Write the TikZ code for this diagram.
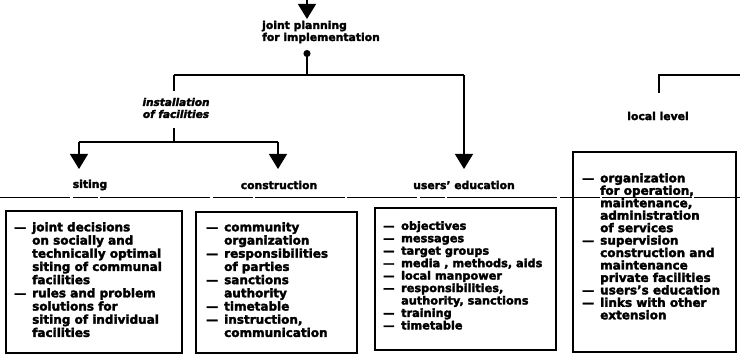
\documentclass[tikz,border=0pt]{standalone}
\usepackage{fontspec}
\setmainfont{DejaVu Sans}[BoldFeatures={FakeBold=2.5},BoldItalicFeatures={FakeBold=2.5}]
\usetikzlibrary{arrows.meta}

% list items with a hanging dash
\newcommand\itm[1]{\makebox[18pt][l]{—}#1}
\newcommand\cnt[1]{\hspace*{18pt}#1}

\tikzset{
  line/.style={line width=1.3pt},
  arr/.style={line width=1.3pt,-{Triangle[width=18pt,length=15pt]}},
  lbl/.style={font=\bfseries\fontsize{10.8}{12}\selectfont, inner sep=0pt},
  box/.style={draw, line width=1.5pt},
  txt/.style={font=\bfseries\fontsize{12}{13.2}\selectfont, align=left,
              inner sep=0pt, anchor=north west},
  txtb/.style={txt, font=\bfseries\fontsize{11.3}{12.45}\selectfont},
  txtc/.style={txt, font=\bfseries\fontsize{12}{12.45}\selectfont},
  rough/.style={line width=0.9pt,
    dash pattern=on 70pt off 3pt on 25pt off 2pt on 110pt off 3pt on 40pt off 2pt on 90pt off 2pt},
}

\begin{document}
\begin{tikzpicture}[x=1pt,y=-1pt]
\useasboundingbox (0,0) rectangle (740,355);

% ---- top: joint planning ----
\coordinate (in) at (307,0);
\node[lbl, anchor=west, align=left] (plan) at (262,32) {joint planning\\for implementation};
\coordinate (planin) at (307,19);
\draw[arr] (in) -- (planin);

\coordinate (dot) at (307,50);
\coordinate (bar) at (307,75);
\draw[line, {Circle[length=7pt]}-] (dot) -- (bar);

% main branch bar
\coordinate (L) at (174,75);
\coordinate (R) at (464,75);
\draw[line] (L) -- (R);

% installation of facilities
\node[lbl, font=\bfseries\itshape\fontsize{10.5}{12}\selectfont, align=center]
  (inst) at (176,108) {installation\\of facilities};
\coordinate (instT) at (174,91);
\coordinate (instB) at (174,128);
\coordinate (sub) at (174,142);
\draw[line] (L) -- (instT);
\draw[line] (instB) -- (sub);

\coordinate (sL) at (79,142);
\coordinate (sR) at (278,142);
\draw[line] (sL) -- (sR);

% branch labels
\node[lbl] (siting) at (90,185) {siting};
\node[lbl] (constr) at (279,185) {construction};
\node[lbl] (users)  at (464,185) {users' education};

\coordinate (sitingT) at (79,169);
\coordinate (constrT) at (278,169);
\coordinate (usersT)  at (464,169);
\draw[arr] (sL) -- (sitingT);
\draw[arr] (sR) -- (constrT);
\draw[arr] (R) -- (usersT);

% local level
\node[lbl] (local) at (658,116) {local level};
\coordinate (lA) at (659,93);
\coordinate (lB) at (659,75);
\coordinate (lC) at (740,75);
\draw[line] (lA) -- (lB) -- (lC);

% separating line
\coordinate (hl) at (0,197);
\coordinate (hr) at (740,197);
\draw[rough] (hl) -- (hr);

% ---- boxes ----
\draw[box] (6,211) rectangle (182,353);
\draw[box] (196,212) rectangle (357,353);
\draw[box] (375,208) rectangle (556,350);
\draw[box] (573,152) rectangle (736,352);

\node[txt] (t1) at (14,222) {%
\itm{joint decisions}\\
\cnt{on socially and}\\
\cnt{technically optimal}\\
\cnt{siting of communal}\\
\cnt{facilities}\\
\itm{rules and problem}\\
\cnt{solutions for}\\
\cnt{siting of individual}\\
\cnt{facilities}};

\node[txt] (t2) at (206,222) {%
\itm{community}\\
\cnt{organization}\\
\itm{responsibilities}\\
\cnt{of parties}\\
\itm{sanctions}\\
\cnt{authority}\\
\itm{timetable}\\
\itm{instruction,}\\
\cnt{communication}};

\node[txtb] (t3) at (383,221) {%
\itm{objectives}\\
\itm{messages}\\
\itm{target groups}\\
\itm{media , methods, aids}\\
\itm{local manpower}\\
\itm{responsibilities,}\\
\cnt{authority, sanctions}\\
\itm{training}\\
\itm{timetable}};

\node[txtc] (t4) at (582,173) {%
\itm{organization}\\
\cnt{for operation,}\\
\cnt{maintenance,}\\
\cnt{administration}\\
\cnt{of services}\\
\itm{supervision}\\
\cnt{construction and}\\
\cnt{maintenance}\\
\cnt{private facilities}\\
\itm{users's education}\\
\itm{links with other}\\
\cnt{extension}};

\end{tikzpicture}
\end{document}
